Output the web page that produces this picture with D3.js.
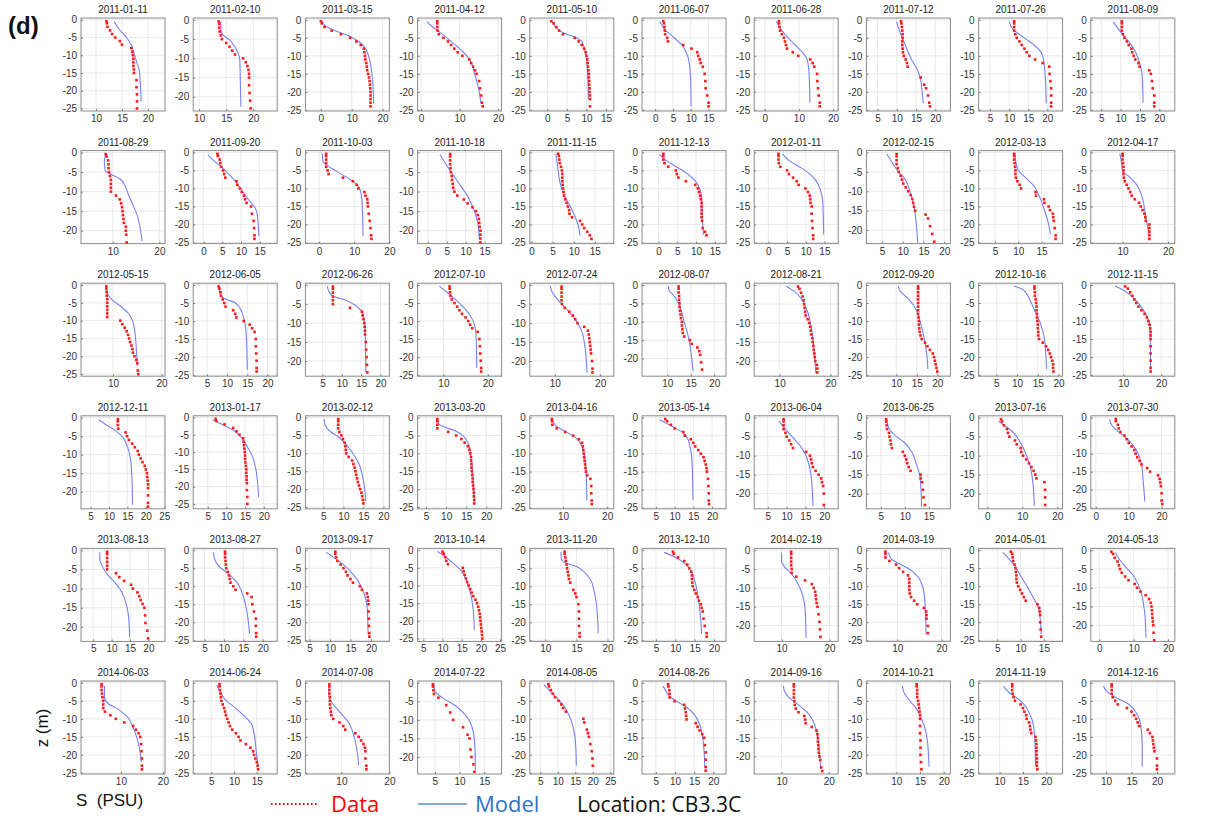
<!DOCTYPE html>
<html><head><meta charset="utf-8">
<script src="https://cdn.jsdelivr.net/npm/d3@7"></script>
<style>body{margin:0;background:#fff}svg{display:block}</style>
</head><body>
<svg id="chart" width="1231" height="821"></svg>
<script>
// Cast dates, one small profile panel each (6 rows x 10 columns)
const dates = [
  "2011-01-11","2011-02-10","2011-03-15","2011-04-12","2011-05-10","2011-06-07","2011-06-28","2011-07-12","2011-07-26","2011-08-09",
  "2011-08-29","2011-09-20","2011-10-03","2011-10-18","2011-11-15","2011-12-13","2012-01-11","2012-02-15","2012-03-13","2012-04-17",
  "2012-05-15","2012-06-05","2012-06-26","2012-07-10","2012-07-24","2012-08-07","2012-08-21","2012-09-20","2012-10-16","2012-11-15",
  "2012-12-11","2013-01-17","2013-02-12","2013-03-20","2013-04-16","2013-05-14","2013-06-04","2013-06-25","2013-07-16","2013-07-30",
  "2013-08-13","2013-08-27","2013-09-17","2013-10-14","2013-11-20","2013-12-10","2014-02-19","2014-03-19","2014-05-01","2014-05-13",
  "2014-06-03","2014-06-24","2014-07-08","2014-07-22","2014-08-05","2014-08-26","2014-09-16","2014-10-21","2014-11-19","2014-12-16"
];

// Salinity axis limits of each panel
const xDomains = [
  [7.1,23.3],[8.9,24.4],[-5,22.2],[-0.9,20.9],[-4.5,17],[-3.7,19.9],[-3.1,21.5],[2.1,23.9],[2,24],[2.3,24],
  [3.2,21.2],[-2.8,19.7],[-3.9,20],[-2.7,19.5],[-0.4,19.5],[-4.4,18],[-3.8,18.7],[1.2,21.5],[1.5,19.5],[3,21.5],
  [3.4,20.7],[1.6,22.4],[0.6,22.3],[4.2,23.1],[4.5,23],[4.6,22.5],[5,21.5],[2.7,23.2],[0.7,21],[1.4,23.6],
  [2.4,25.2],[1.1,23.6],[0.5,21.5],[2.9,23.8],[2.5,21.5],[1.3,23.7],[1.4,23.7],[2,19.5],[-2.5,21.5],[-1.5,24],
  [1.7,24.5],[2.1,23.7],[4,24.5],[3.5,25.4],[7.5,21],[1.4,23.1],[4.3,21.8],[3,22],[1,19],[-2.5,22],
  [0.5,20.5],[1,19.5],[2.5,20],[1.5,18.5],[2,26],[1.4,23.3],[4.2,22],[3.7,21.4],[5.5,23.5],[7,23.5]
];

// Salinity tick labels of each panel
const xTickValues = [
  [10,15,20],[10,15,20],[0,10,20],[0,10,20],[0,5,10,15],[0,5,10,15],[0,10,20],[5,10,15,20],[5,10,15,20],[5,10,15,20],
  [10,20],[0,5,10,15],[0,10,20],[0,5,10,15],[0,5,10,15],[0,5,10,15],[0,5,10,15],[5,10,15,20],[5,10,15],[10,20],
  [10,20],[5,10,15,20],[5,10,15,20],[10,20],[10,20],[10,15,20],[10,20],[10,15,20],[5,10,15,20],[10,20],
  [5,10,15,20,25],[5,10,15,20],[5,10,15,20],[5,10,15,20],[10,20],[5,10,15,20],[5,10,15,20],[5,10,15],[0,10,20],[0,10,20],
  [5,10,15,20],[5,10,15,20],[5,10,15,20],[5,10,15,20,25],[10,15,20],[5,10,15,20],[10,20],[10,20],[5,10,15],[0,10,20],
  [10,20],[5,10,15],[10,20],[5,10,15],[5,10,15,20,25],[5,10,15,20],[10,20],[10,15,20],[10,15,20],[10,15,20]
];

// Depth tick labels and lower depth limit of each panel
const yTickValues = [0,-5,-10,-15,-20,-25];
const yBottoms = [
  -25.7,-23.7,-25.3,-25.3,-25.3,-25.3,-25.3,-25.3,-25.3,-25.3,
  -23.3,-25.3,-25.3,-23.3,-25.3,-25.3,-25.3,-23.5,-25.3,-25.3,
  -25.6,-25.3,-24.0,-25.3,-24.0,-24.8,-24.0,-25.3,-25.3,-25.3,
  -24.6,-26.4,-25.5,-25.5,-25.3,-25.3,-24.0,-24.0,-24.0,-25.3,
  -23.8,-25.3,-25.3,-25.8,-25.3,-25.3,-24.2,-25.3,-25.3,-24.3,
  -25.3,-25.3,-25.3,-24.6,-25.3,-24.9,-24.8,-25.3,-25.3,-25.3
];

// Sampling depths (m) of the observed casts
const depths = [-0.4,-1,-2,-3,-4,-5,-6,-7,-8,-9,-10,-11,-12,-13,-14,-15,-16,-17,-18,-19,-20,-21,-22,-23,-24,-25];

// Observed salinity (PSU) at each sampling depth, null where no sample
const dataSalinity = [
  [12.0,12.1,12.2,12.7,13.1,13.7,14.6,15.0,16.8,17.0,17.1,17.2,17.2,17.2,17.3,17.3,null,17.8,null,17.8,null,17.9,null,17.9,null,17.9],
  [13.6,13.7,13.7,13.8,14.0,14.2,15.0,15.6,16.1,16.6,18.1,18.6,18.9,19.1,19.2,19.2,null,19.2,null,19.3,null,19.4,null,19.5,null,null],
  [0.0,0.3,1.2,3.5,6.5,9.5,11.5,12.9,13.9,14.1,14.3,14.4,14.7,14.9,15.0,15.3,15.6,15.8,15.9,16.0,16.1,16.1,16.1,16.1,16.1,null],
  [4.2,4.2,4.2,4.3,4.6,5.8,7.0,7.8,8.6,9.5,10.7,12.5,13.0,13.5,14.0,14.4,null,15.1,null,15.3,null,15.6,null,15.8,16.0,null],
  [1.0,1.6,2.3,3.0,4.0,7.0,8.0,8.8,9.4,9.8,10.0,10.2,10.3,10.4,10.5,10.6,10.6,10.7,10.7,10.8,10.8,10.9,10.9,null,10.9,null],
  [2.3,2.5,2.6,2.7,2.8,3.4,3.6,7.9,10.2,11.8,12.1,12.5,12.8,13.4,null,13.9,null,14.1,null,14.2,null,14.6,null,15.0,15.0,null],
  [4.1,4.2,4.3,4.5,5.0,5.6,5.9,6.2,6.5,8.2,9.8,13.3,14.0,14.5,null,15.3,null,15.4,null,15.6,null,15.8,null,16.1,16.1,null],
  [11.1,11.2,11.3,11.4,11.5,11.5,11.4,11.4,11.5,11.6,11.8,12.3,12.6,12.8,null,null,16.2,null,17.1,17.6,null,18.1,null,18.4,18.6,null],
  [11.3,11.3,11.3,11.3,11.6,12.0,12.7,13.3,14.0,14.6,15.3,16.8,18.8,20.5,null,20.6,null,20.8,null,21.0,null,21.0,null,21.0,21.0,null],
  [10.3,10.3,10.3,10.3,10.6,11.0,11.6,12.1,12.8,13.0,13.4,13.8,14.6,14.9,17.4,17.8,null,18.1,null,18.3,null,18.7,null,18.7,18.7,null],

  [8.5,8.7,9.0,9.1,9.1,9.2,9.4,9.6,9.6,9.6,9.6,10.7,11.5,11.8,12.0,12.1,12.2,12.3,12.4,12.8,12.8,12.9,null,13.0,null,null],
  [3.7,3.8,4.3,4.5,4.7,5.2,5.5,5.8,8.8,9.0,9.7,10.2,10.8,11.1,11.5,12.7,null,12.9,null,13.4,null,13.5,null,13.6,13.6,null],
  [2.0,2.0,2.0,2.0,2.0,2.4,2.7,6.8,9.6,10.7,11.2,12.9,13.2,13.7,13.8,13.9,null,14.1,null,14.4,null,14.6,null,14.8,14.9,null],
  [5.9,5.9,5.9,5.9,6.0,6.1,6.3,6.4,6.6,6.7,7.0,7.8,9.5,10.5,11.8,12.7,13.2,13.5,13.6,13.7,13.9,13.9,13.9,13.9,null,null],
  [6.3,6.5,6.6,6.7,7.0,7.2,7.3,7.3,7.3,7.4,7.5,7.6,7.7,8.0,8.3,8.6,8.9,9.0,9.6,11.5,12.0,12.5,13.2,13.8,14.2,null],
  [1.3,1.3,1.3,1.6,2.6,4.6,4.9,5.3,7.3,9.8,10.5,10.8,11.1,11.3,11.5,11.5,11.5,11.5,11.5,11.6,null,11.8,12.4,12.8,null,null],
  [2.7,2.7,2.7,2.8,3.2,5.0,5.5,6.6,7.6,8.1,9.9,10.6,11.1,11.2,11.3,11.6,null,11.6,null,11.7,null,11.8,null,12.0,12.0,null],
  [8.5,8.5,8.5,8.5,8.8,9.0,9.5,9.8,10.1,10.7,11.3,11.9,12.3,12.5,12.7,13.0,15.5,16.1,null,16.6,null,17.1,null,17.6,null,null],
  [9.1,9.1,9.1,9.2,9.3,9.4,9.4,9.5,9.8,10.3,10.6,13.7,13.8,15.5,15.6,16.5,16.8,17.4,17.5,17.6,null,17.8,null,18.0,18.0,null],
  [10.0,10.0,10.0,10.1,10.2,10.2,10.2,10.3,10.5,10.9,11.3,11.7,12.0,12.7,13.6,14.0,14.4,14.8,15.0,15.1,15.9,15.9,15.9,15.9,15.9,null],

  [8.6,8.6,8.7,8.7,8.8,8.8,8.8,8.8,8.8,8.8,11.5,11.9,12.4,12.8,13.1,13.3,13.5,13.8,14.0,14.1,14.4,14.8,15.0,null,15.1,15.2],
  [7.9,8.1,8.4,8.5,8.9,9.3,9.6,11.5,12.0,12.3,14.1,15.6,16.2,16.8,null,17.1,null,17.1,null,17.2,null,17.3,null,17.3,17.3,null],
  [7.7,7.7,7.7,7.7,7.7,7.7,12.1,15.2,15.4,15.6,15.8,15.9,16.0,16.0,null,16.2,null,16.3,null,16.4,null,16.5,null,16.6,null,null],
  [11.4,11.4,11.5,11.6,11.9,12.5,13.1,13.6,14.2,15.0,15.6,16.0,16.5,17.7,null,18.1,null,18.2,null,18.3,null,18.4,null,18.5,18.5,null],
  [11.5,11.5,11.5,11.5,11.5,11.6,12.2,13.2,14.0,14.5,15.0,16.5,17.3,17.5,17.6,17.7,17.8,17.9,18.0,null,18.2,null,18.3,18.3,null,null],
  [12.4,12.4,12.4,12.5,12.5,12.6,12.6,12.7,12.8,12.9,13.1,13.1,13.2,13.3,13.6,14.8,15.2,16.4,16.8,17.0,null,17.2,null,17.4,null,null],
  [13.6,13.9,14.2,14.5,14.7,14.8,14.9,15.0,15.1,15.5,15.8,16.0,16.1,16.2,16.4,16.5,16.6,16.7,16.8,16.9,17.0,17.3,17.4,17.4,null,null],
  [15.3,15.3,15.3,15.3,15.3,15.3,15.3,15.3,15.3,15.4,15.5,15.5,15.6,15.7,15.9,16.2,17.0,17.6,18.2,18.9,19.2,19.4,19.6,19.8,20.0,null],
  [14.2,14.2,14.3,14.3,14.5,14.6,14.7,14.7,14.8,14.8,14.9,15.0,15.0,15.1,15.1,15.3,16.2,17.0,17.5,17.9,18.2,18.5,18.7,18.7,18.8,null],
  [10.5,11.2,11.8,12.4,12.9,13.4,14.0,14.8,15.6,16.2,16.6,16.9,17.1,17.2,17.2,17.2,null,17.2,null,17.2,null,17.2,null,17.2,17.2,null],

  [12.4,12.4,12.4,12.5,14.5,14.9,15.4,16.3,17.0,17.8,18.1,18.6,19.1,19.7,20.0,20.3,20.4,20.5,20.6,20.6,null,20.6,null,20.6,20.6,null],
  [7.1,7.3,9.5,11.8,12.7,13.5,14.5,14.6,14.7,14.8,14.9,15.0,15.0,15.1,15.2,15.3,15.3,15.4,15.4,15.5,null,15.5,null,15.6,null,15.6],
  [8.7,8.7,8.7,8.7,9.0,9.5,9.9,10.3,10.5,10.6,10.7,11.3,12.2,12.5,12.8,13.0,13.2,13.4,13.6,13.9,14.2,14.5,14.7,14.9,15.0,null],
  [7.8,7.8,7.8,7.8,10.5,12.5,13.8,14.6,15.4,15.8,16.0,16.2,16.2,16.3,16.3,16.4,16.5,16.6,16.6,16.7,16.8,16.9,16.9,17.0,17.0,null],
  [7.5,7.5,7.6,8.6,10.5,12.3,13.6,14.3,14.5,14.6,14.7,14.8,14.9,15.0,15.1,15.2,15.5,16.2,null,16.4,null,16.4,null,16.5,16.5,null],
  [7.5,8.0,9.0,10.0,12.3,12.7,14.3,15.0,15.5,16.3,17.0,17.7,18.0,18.3,18.5,18.6,null,18.9,null,19.0,null,19.1,null,19.1,19.2,null],
  [9.2,9.2,9.2,9.2,9.7,10.0,10.7,11.2,11.7,15.2,16.2,16.5,16.7,17.0,17.7,18.5,19.2,19.4,19.7,null,19.9,null,null,19.9,null,null],
  [6.1,6.1,6.2,6.3,6.7,6.8,7.0,7.1,7.3,9.6,10.0,10.3,10.5,10.8,11.2,13.3,13.3,13.6,null,13.8,null,13.9,null,14.2,null,null],
  [3.9,4.2,4.7,5.6,5.9,6.3,7.9,8.4,9.5,9.7,10.2,11.1,11.9,12.6,13.2,13.7,14.0,16.3,null,16.5,null,16.5,null,16.5,null,null],
  [6.1,6.1,6.7,7.0,7.5,8.7,9.4,10.0,10.9,11.7,12.1,12.6,13.3,13.9,15.6,16.5,18.9,19.4,19.6,19.8,null,20.0,null,20.0,20.2,null],

  [8.8,8.8,8.8,8.8,8.8,8.8,11.2,12.1,13.4,15.3,15.8,17.0,17.5,17.9,18.4,18.9,null,19.1,null,19.2,null,19.7,null,19.9,null,null],
  [10.3,10.3,10.3,10.4,10.5,10.6,11.0,11.3,11.5,11.7,12.4,13.0,16.0,17.1,null,17.3,null,17.7,null,18.2,null,18.2,null,18.3,18.3,null],
  [11.3,11.3,11.5,11.8,12.6,13.3,13.9,14.3,15.0,15.6,17.3,17.8,19.0,19.2,19.3,19.4,null,19.4,null,19.5,null,19.5,null,19.6,19.6,null],
  [10.0,10.3,10.7,11.0,11.4,15.3,15.5,15.8,16.1,16.4,16.8,17.2,17.6,18.0,18.6,19.0,19.3,19.5,19.7,19.8,19.9,20.0,20.1,20.2,20.3,20.4],
  [13.1,13.1,13.2,13.3,13.4,13.5,13.6,13.7,13.8,14.0,null,14.5,14.8,15.0,null,15.3,null,15.4,null,15.4,null,15.4,null,15.5,15.5,null],
  [9.4,9.6,10.7,12.3,13.1,13.6,14.1,14.3,14.3,14.4,14.5,14.9,15.3,15.8,16.1,16.6,16.8,17.1,null,17.3,null,17.6,null,18.1,18.1,null],
  [12.0,12.0,12.0,12.0,12.0,12.1,12.1,13.1,14.9,16.3,16.7,17.0,17.1,17.2,17.3,17.5,null,17.7,null,17.9,null,18.0,null,18.1,null,null],
  [7.3,7.3,7.3,8.2,9.7,10.4,11.3,12.4,12.7,12.7,12.7,12.7,12.8,13.1,13.8,14.5,16.0,16.5,16.6,16.6,null,16.9,null,16.9,null,null],
  [7.9,8.2,8.3,8.4,8.7,8.9,9.0,9.1,9.1,9.2,9.5,9.9,10.3,10.7,11.1,13.6,14.0,14.1,14.2,null,14.2,null,14.3,null,14.4,null],
  [3.5,4.0,4.5,5.3,5.7,6.0,6.5,7.5,8.5,10.3,11.0,12.0,13.5,14.5,15.0,15.2,15.3,15.4,15.5,15.6,15.7,null,15.8,null,16.0,null],

  [5.4,5.4,5.4,5.5,5.6,5.8,5.8,5.8,6.2,7.5,8.8,10.8,12.9,13.6,14.2,14.6,null,14.8,null,14.9,null,15.0,null,15.0,15.0,null],
  [6.8,6.8,6.9,7.0,7.1,7.2,7.5,7.8,8.0,8.2,8.5,8.8,9.1,9.6,10.4,11.0,11.4,12.6,13.6,14.2,14.4,14.7,15.0,15.2,15.3,null],
  [7.5,7.5,7.5,7.5,7.6,7.6,7.6,7.7,7.8,7.9,8.3,9.6,10.4,10.8,12.9,13.6,14.1,14.6,14.9,15.0,null,15.0,null,15.2,15.2,null],
  [4.6,4.6,4.7,4.8,5.7,null,7.3,null,8.1,null,8.7,null,10.7,null,11.6,12.0,null,null,12.2,null,12.4,null,12.8,null,13.0,null],
  [7.3,7.5,8.0,8.6,9.2,10.2,11.0,11.5,12.3,null,17.3,17.6,null,18.3,18.6,18.9,null,19.3,null,19.7,null,19.9,null,20.0,null,null],
  [8.2,8.3,8.5,8.6,8.6,9.9,12.4,12.6,12.8,12.9,13.0,15.4,15.9,16.4,17.1,17.6,null,17.8,null,18.0,null,18.0,null,18.0,18.0,null],
  [12.6,12.6,12.6,12.6,12.6,12.7,12.8,13.0,13.6,14.8,15.0,15.1,16.4,17.4,17.6,17.7,17.7,17.8,17.8,17.9,18.0,18.2,null,18.4,18.6,null],
  [14.3,14.3,14.4,14.4,14.4,14.6,14.7,14.8,14.9,15.0,15.0,null,15.0,null,15.0,null,15.1,null,15.1,null,15.1,null,15.2,null,15.3,null],
  [12.7,12.7,12.7,12.8,13.0,13.3,14.5,15.0,15.3,15.7,15.8,16.3,16.5,16.6,16.8,17.7,17.8,17.9,17.9,17.9,17.9,18.0,18.0,18.0,18.1,null],
  [11.1,11.1,11.1,11.1,11.3,11.8,12.3,14.1,15.0,15.5,15.9,16.2,16.5,18.2,18.6,19.1,19.2,19.3,19.4,19.5,null,20.0,null,20.0,20.0,null]
];

// Modelled salinity profiles as [depth (m), salinity (PSU)] vertices
const modelProfiles = [
  [[-0.5,13.5],[-2.4,14.3],[-4.7,15.7],[-7,16.8],[-9.4,17.3],[-12.3,17.9],[-14,18.3],[-17,18.5],[-23,18.7]],
  [[-0.4,14],[-2.6,14],[-3.9,14.4],[-5.2,15.6],[-7,16.6],[-8.7,17.2],[-10.4,17.5],[-16.5,17.6],[-22.6,17.7]],
  [[-0.3,0.3],[-2,2],[-3.3,5.5],[-4.6,9.5],[-6.5,13],[-8.3,14.7],[-10.5,15.6],[-14,16.4],[-18.5,16.9],[-23.3,17.1]],
  [[-0.5,1.5],[-2,3],[-3.5,4.9],[-6,7.8],[-9,11],[-11,12.6],[-15,13.9],[-20,15.1],[-23,15.5]],
  [[-0.5,1.2],[-2.5,2.5],[-3.8,4.5],[-4.8,7],[-6,8.8],[-8,9.5],[-10,9.9],[-15,10.3],[-22,10.5]],
  [[-0.5,1.3],[-2.8,2.8],[-4.6,4.9],[-6.9,7.4],[-9.7,9.0],[-13,9.7],[-17.6,10],[-24,10.1]],
  [[-0.5,3.4],[-2.6,4.7],[-5.1,6.9],[-7.4,9.3],[-9.3,11.3],[-11,12.4],[-14,12.9],[-18,13.1],[-23,13.2]],
  [[-0.5,9.9],[-3.7,10.9],[-6.5,12.0],[-10.6,13.6],[-14,15.4],[-16.7,16.2],[-20.4,16.6],[-23.2,16.9]],
  [[-0.5,10],[-2.6,11],[-5,14],[-7.4,17],[-9.3,18.5],[-11,19],[-16.5,19.5],[-23.2,19.7]],
  [[-0.5,8.1],[-3.2,9.9],[-6,12.1],[-8.8,13.8],[-12,14.9],[-15.7,15.6],[-23,15.8]],

  [[-0.3,8.5],[-2.4,8.2],[-4.6,8.4],[-5.4,9.4],[-6.7,11.5],[-8.4,12.6],[-10.6,13.3],[-13.6,14.4],[-16.2,15.3],[-18.8,15.8],[-22.7,16.3]],
  [[-0.7,1.1],[-2.5,2.9],[-4.3,5.0],[-7,7.6],[-9.3,9.4],[-11.5,10.9],[-13.5,12.3],[-15,13.6],[-17,14.3],[-20,14.6],[-23.2,14.8]],
  [[-0.3,0.9],[-2.5,1.1],[-3.4,1.9],[-5.2,4.9],[-7.5,8.8],[-8.8,10.6],[-10.2,11.6],[-13.3,12.2],[-23.2,12.5]],
  [[-0.5,3.2],[-3.3,5],[-5.9,6.8],[-8.4,8.6],[-11,10.4],[-14.7,12.2],[-18,13.2],[-22.2,13.6]],
  [[-0.5,5.8],[-4,6.2],[-8.5,6.8],[-12,7.8],[-15,9.2],[-17.5,10.2],[-20,11],[-23,11.5]],
  [[-0.6,0.3],[-1.7,1.3],[-3.1,3.3],[-5.3,6.8],[-7.9,9.8],[-9.9,10.9],[-12.5,11.5],[-18.7,11.7],[-22.8,12.0]],
  [[-0.5,3.8],[-2.5,5.8],[-4.3,8.8],[-6.1,11.2],[-7.9,12.8],[-10.6,14.0],[-14.2,14.6],[-22.8,14.8]],
  [[-0.3,6.1],[-2,7.1],[-3.4,7.9],[-5,9],[-7,10.6],[-9.3,11.5],[-12.4,12.4],[-16.9,13.1],[-23.3,13.6]],
  [[-0.3,9.3],[-3.4,9.6],[-5,10],[-7,11.6],[-9.4,13.4],[-12.4,14.6],[-16,15.6],[-19.4,16.4],[-22.7,16.9]],
  [[-0.3,9.4],[-2.5,9.7],[-5.2,10],[-6.6,11.3],[-8.8,13],[-12.4,14.3],[-17,15],[-20.6,15.5],[-23.3,15.9]],

  [[-0.3,8.6],[-2.5,8.9],[-4.4,10],[-5.8,11.4],[-7.7,13.0],[-10,14.0],[-13.3,14.5],[-18,14.8],[-22.6,15.0]],
  [[-0.3,7.9],[-3,8.4],[-4,9.8],[-4.9,12.0],[-6.7,13.3],[-9.5,14.2],[-13.3,14.7],[-23.5,15.0]],
  [[-0.3,6.3],[-1.6,6.6],[-3,7.9],[-3.9,10.8],[-5.3,13.5],[-6.7,15.0],[-8.6,15.7],[-11.4,16.0],[-23,16.2]],
  [[-0.3,9.1],[-2,10.8],[-4,12.7],[-6.3,14.6],[-8.6,16.1],[-11,17.0],[-15,17.4],[-23,17.5]],
  [[-0.3,9.0],[-2,9.5],[-4,10.8],[-6,12.3],[-8,13.8],[-10,15.0],[-12,15.9],[-15,16.5],[-19,16.9],[-23,17.1]],
  [[-0.3,10.2],[-1.6,10.4],[-2.2,10.9],[-4,12],[-6.7,12.9],[-10.5,13.7],[-14.2,14.5],[-19,15.1],[-23.5,15.5]],
  [[-0.3,11.3],[-1.6,12.8],[-3.5,14.2],[-6.7,15.4],[-11,16.2],[-16,16.7],[-23.3,17.1]],
  [[-0.3,10.5],[-1.6,10.9],[-3.9,13.0],[-6.7,14.8],[-10,15.8],[-14.2,16.7],[-18.9,17.4],[-23.3,17.7]],
  [[-0.3,9.2],[-1.1,11.2],[-2.1,12.1],[-3.9,13.0],[-6.7,14.1],[-10.5,15.6],[-15.6,16.7],[-23.3,17.1]],
  [[-0.3,7.8],[-1.6,10.3],[-3.9,13.0],[-6.7,15.1],[-9.5,16.6],[-12.3,17.1],[-23.3,17.2]],

  [[-0.6,7.2],[-1.9,9.2],[-3.7,12],[-5.4,13.8],[-8.1,15.1],[-11.6,15.9],[-16,16.2],[-23.5,16.4]],
  [[-0.7,6.3],[-2.1,9.1],[-4,12.3],[-6.4,14.4],[-8.8,15.8],[-11.6,17.1],[-14.5,17.8],[-18.3,18.3],[-23,18.6]],
  [[-0.4,5.2],[-2,5.4],[-3.9,6.7],[-5.3,8.6],[-7.1,10.3],[-9.4,12.0],[-12.7,13.8],[-16.9,14.9],[-23.3,15.6]],
  [[-0.5,7.9],[-1.8,8.2],[-2.5,9.3],[-3.8,12.5],[-5.2,14.3],[-7.5,15.6],[-11.1,16.2],[-15.6,16.6],[-21,16.9],[-23.5,17.0]],
  [[-0.5,7.6],[-2,8.2],[-3.5,10],[-5,12.3],[-6.5,13.6],[-8,14.4],[-10,14.8],[-13,15.1],[-17,15.3],[-23,15.4]],
  [[-0.6,6],[-1.7,8],[-2.8,10],[-4.2,12.3],[-5.9,13.5],[-9.1,14.3],[-13.5,14.7],[-22.8,14.9]],
  [[-0.9,8],[-2.4,9.2],[-4.6,11.1],[-7.3,13.5],[-9.5,14.9],[-12.2,15.9],[-16.2,16.6],[-23.3,17.0]],
  [[-0.6,6.3],[-2.8,6.7],[-4.6,7.9],[-6.4,9.8],[-9.1,11.5],[-12.2,12.4],[-15.8,13.2],[-23.3,13.5]],
  [[-0.9,3.2],[-1.9,4.7],[-3.7,7.2],[-6.3,9.3],[-9.3,10.9],[-12,12.0],[-16.2,12.9],[-23.3,13.4]],
  [[-0.5,4.2],[-2.3,5],[-3.8,6.7],[-6.1,9.8],[-9.3,12.5],[-12.5,13.8],[-17.5,14.4],[-23.3,14.9]],

  [[-0.6,6.8],[-2.3,6.8],[-4,7.4],[-6.1,8.7],[-8.3,10.8],[-10.8,12.7],[-13.8,13.9],[-17.2,14.6],[-22.7,14.9]],
  [[-0.6,7.3],[-2.4,7.6],[-4.2,8.5],[-6.5,11],[-8.7,13.2],[-11.9,14.7],[-16.4,15.8],[-23.2,16.6]],
  [[-0.6,9.1],[-2.4,11.4],[-4.7,14],[-6.9,15.8],[-9.6,17.4],[-12.7,18.5],[-16.2,19.1],[-23.3,19.3]],
  [[-0.4,8.7],[-2,10.9],[-3.9,13],[-5.7,14.8],[-8.5,16.2],[-12.2,17.3],[-15.9,17.9],[-22.6,18.3]],
  [[-0.5,12.5],[-2.5,12.6],[-3.5,13.2],[-4.5,15],[-6,16.2],[-8,17.2],[-11,17.8],[-15,18.2],[-23,18.5]],
  [[-0.6,7.1],[-2,10.1],[-3.8,12.6],[-6,14.2],[-9.2,15.2],[-13.7,16],[-18.2,16.5],[-23.2,16.8]],
  [[-0.6,10],[-2.9,10],[-4.2,10.5],[-6,11.9],[-8.8,13.4],[-12,14.4],[-15.6,14.9],[-23.3,15.1]],
  [[-0.6,8],[-2.4,8.6],[-3.6,10.2],[-5.2,12.7],[-7,14.4],[-9.6,15.6],[-13.7,16.2],[-23.3,16.5]],
  [[-0.6,6.2],[-2.4,7.5],[-4.2,8.7],[-6.9,9.9],[-10.1,11.4],[-13.1,12.7],[-15.9,13.8],[-19,14.2],[-23.3,14.4]],
  [[-0.6,4.7],[-2,5.5],[-4.3,7.5],[-6.6,9.8],[-9.3,11.4],[-12,12.4],[-16.6,13.2],[-23.3,13.6]],

  [[-0.9,6.1],[-4,6.1],[-5.8,7],[-7.1,9.0],[-9.4,11.5],[-12.1,12.8],[-15.6,13.9],[-20.1,14.7],[-22,14.9]],
  [[-0.6,6.2],[-2.7,7],[-4.9,8.2],[-7.1,10.4],[-9.4,12.4],[-11.6,13.9],[-14.7,14.5],[-19.2,14.9],[-22.8,15.3]],
  [[-0.9,7.4],[-4,7.4],[-5.8,8.2],[-8.5,9.9],[-11.2,11.6],[-14.7,12.6],[-18.3,13.2],[-22.8,13.6]],
  [[-0.4,4.8],[-2.2,5],[-4,6.5],[-6.3,9.3],[-9.4,11.6],[-12.9,12.7],[-17.4,13.1],[-23.5,13.2]],
  [[-0.5,6.0],[-2.5,8.0],[-4.5,10.0],[-6.5,11.8],[-9,13.2],[-12,14.3],[-15,14.9],[-19,15.2],[-23,15.3]],
  [[-0.9,6.9],[-2.2,7.6],[-3.6,8.5],[-4.9,10.2],[-6.7,13.1],[-8.9,15.2],[-11.6,16.5],[-15.6,17.3],[-23.3,17.8]],
  [[-0.9,10.4],[-2.2,10.6],[-4,11.6],[-5.8,13.4],[-8,15.4],[-10.2,16.6],[-12.9,17.4],[-17.3,17.9],[-23.3,18.3]],
  [[-0.9,11.3],[-2.7,11.6],[-4.9,12.8],[-7.1,14.2],[-9.4,15.1],[-12.1,15.9],[-15.6,16.5],[-23.3,16.9]],
  [[-0.9,10.8],[-2.7,12],[-4,13.5],[-5.8,15.1],[-8.5,16.4],[-12.1,17.3],[-17.4,17.6],[-23.3,17.7]],
  [[-0.9,9.5],[-2.2,10],[-4,11.8],[-5.8,14.3],[-8.5,16],[-11.6,16.8],[-17.4,17.1],[-23.3,17.1]]
];

// ---- layout of the panel grid ----
const nCols = 10;
const panelW = 84, panelH = 93;
const gridLeft = 81, colStep = 112.2;
const gridTop = 18, rowStep = 132.6;

const tickFont = "'Liberation Sans', Arial, Helvetica, sans-serif";
const svg = d3.select("#chart");

dates.forEach((date, i) => {
  const col = i % nCols, row = Math.floor(i / nCols);
  const g = svg.append("g")
    .attr("transform", `translate(${gridLeft + col * colStep},${gridTop + row * rowStep})`);

  const x = d3.scaleLinear().domain(xDomains[i]).range([0, panelW]);
  const y = d3.scaleLinear().domain([yBottoms[i], 0.5]).range([panelH, 0]);
  const yTicks = yTickValues.filter(v => v >= yBottoms[i]);

  // light grid at the tick positions
  g.append("g").selectAll("line").data(xTickValues[i]).join("line")
    .attr("x1", d => x(d)).attr("x2", d => x(d)).attr("y1", 0).attr("y2", panelH)
    .attr("stroke", "#e4e4e4").attr("stroke-width", 0.8);
  g.append("g").selectAll("line").data(yTicks).join("line")
    .attr("x1", 0).attr("x2", panelW).attr("y1", d => y(d)).attr("y2", d => y(d))
    .attr("stroke", "#e4e4e4").attr("stroke-width", 0.8);

  // axes with short inward ticks
  const xa = g.append("g").attr("transform", `translate(0,${panelH})`)
    .call(d3.axisBottom(x).tickValues(xTickValues[i]).tickSize(-2).tickPadding(4).tickFormat(d => String(d)));
  const ya = g.append("g")
    .call(d3.axisLeft(y).tickValues(yTicks).tickSize(-2).tickPadding(4).tickFormat(d => String(d)));
  [xa, ya].forEach(a => {
    a.select(".domain").remove();
    a.selectAll("line").attr("stroke", "#777");
    a.selectAll("text").attr("font-family", tickFont).attr("font-size", 10).attr("fill", "#333");
  });

  // frame
  g.append("rect").attr("width", panelW).attr("height", panelH)
    .attr("fill", "none").attr("stroke", "#8a8a8a").attr("stroke-width", 1);

  // model profile
  const line = d3.line().x(p => x(p[1])).y(p => y(p[0])).curve(d3.curveMonotoneY);
  g.append("path").datum(modelProfiles[i]).attr("d", line)
    .attr("fill", "none").attr("stroke", "#7682f4").attr("stroke-width", 1.1);

  // observed samples
  const obs = depths.map((z, k) => [z, dataSalinity[i][k]])
    .filter(p => p[1] !== null && p[0] >= yBottoms[i]);
  g.append("g").selectAll("rect").data(obs).join("rect")
    .attr("x", p => x(p[1]) - 1.3).attr("y", p => y(p[0]) - 1.3)
    .attr("width", 2.6).attr("height", 2.6).attr("fill", "#ff1a1a");

  // title
  g.append("text").attr("x", panelW / 2).attr("y", -5)
    .attr("text-anchor", "middle").attr("font-family", tickFont).attr("font-size", 10)
    .attr("fill", "#222").text(date);
});

// ---- labels and legend ----
svg.append("text").attr("x", 8).attr("y", 34)
  .attr("font-family", "'Liberation Sans', Arial, sans-serif").attr("font-weight", "bold")
  .attr("font-size", 24).attr("fill", "#111").text("(d)");

svg.append("text").attr("transform", "translate(48,728) rotate(-90)")
  .attr("text-anchor", "middle").attr("font-family", "'Liberation Sans', Arial, sans-serif")
  .attr("font-size", 17).attr("fill", "#111").text("z (m)");

svg.append("text").attr("x", 76).attr("y", 806)
  .style("white-space", "pre")
  .attr("font-family", "'Liberation Sans', Arial, sans-serif")
  .attr("font-size", 17).attr("fill", "#111").text("S  (PSU)");

svg.append("line").attr("x1", 271).attr("x2", 317).attr("y1", 804).attr("y2", 804)
  .attr("stroke", "#ff0000").attr("stroke-width", 2.2).attr("stroke-dasharray", "1.6,2.4");
svg.append("text").attr("x", 331).attr("y", 812)
  .attr("font-family", "'Open Sans', 'Liberation Sans', sans-serif")
  .attr("font-size", 22).attr("fill", "#ff0000").text("Data");

svg.append("line").attr("x1", 418).attr("x2", 467).attr("y1", 804).attr("y2", 804)
  .attr("stroke", "#5b8ed8").attr("stroke-width", 1.6);
svg.append("text").attr("x", 475).attr("y", 812)
  .attr("font-family", "'Open Sans', 'Liberation Sans', sans-serif")
  .attr("font-size", 22).attr("fill", "#2a74c9").text("Model");

svg.append("text").attr("x", 577).attr("y", 812)
  .attr("font-family", "'Open Sans', 'Liberation Sans', sans-serif")
  .attr("font-size", 21).attr("fill", "#111").text("Location: CB3.3C");
</script>
</body></html>
